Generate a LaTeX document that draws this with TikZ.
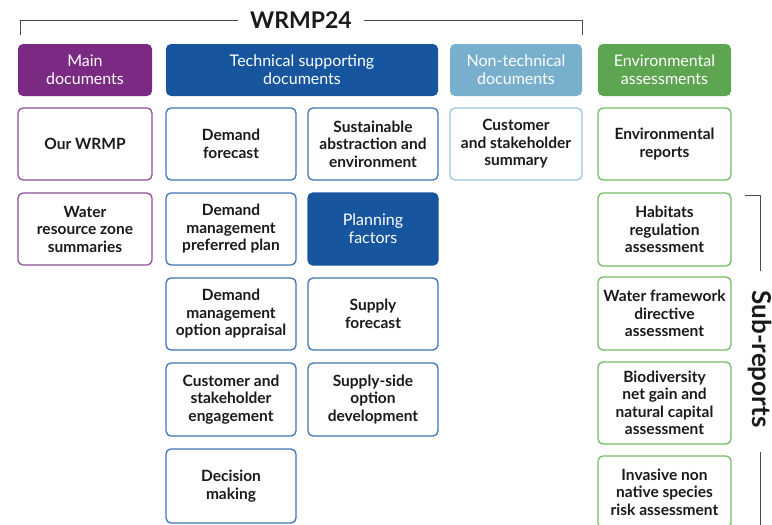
\documentclass[tikz,border=0pt]{standalone}
\usepackage{fontspec}
\setmainfont{Lato}

\definecolor{mainpurple}{HTML}{7B2A83}
\definecolor{mainline}{HTML}{8F4F99}
\definecolor{techblue}{HTML}{17569F}
\definecolor{techline}{HTML}{3F74B9}
\definecolor{nontechblue}{HTML}{78AFCD}
\definecolor{nontechline}{HTML}{9DC7DE}
\definecolor{envgreen}{HTML}{5DA550}
\definecolor{envline}{HTML}{74BB63}
\definecolor{textgrey}{HTML}{1A1A1A}

\tikzset{
  head/.style={rounded corners=5pt, minimum height=52pt, text=white, align=center,
    inner sep=0pt, font=\fontsize{16}{18}\selectfont},
  doc/.style={draw, line width=1.3pt, rounded corners=5pt, fill=white,
    minimum height=72pt, inner sep=0pt, align=center, text=textgrey,
    font=\bfseries\fontsize{15.5}{17.5}\selectfont},
  bracket/.style={draw=black!70, line width=0.9pt}
}

\begin{document}
\begin{tikzpicture}[x=1pt,y=-1pt]
  \clip (0,0) rectangle (772,525);

  % title bracket
  \node[font=\bfseries\fontsize{23}{26}\selectfont, text=textgrey] (title) at (301,20) {WRMP24};
  \coordinate (tl) at (20,35);
  \coordinate (tlc) at (20,20);
  \coordinate (tr) at (582,35);
  \coordinate (trc) at (582,20);
  \draw[bracket] (tl) -- (tlc) -- ([xshift=-9pt]title.west);
  \draw[bracket] ([xshift=9pt]title.east) -- (trc) -- (tr);

  % headings
  \node[head, fill=mainpurple, minimum width=134pt] (mainhead) at (85,70) {Main\\documents};
  \node[head, fill=techblue, minimum width=272pt] (techhead) at (302,70) {Technical supporting\\documents};
  \node[head, fill=nontechblue, minimum width=132pt] (nontechhead) at (516,70) {Non-technical\\documents};
  \node[head, fill=envgreen, minimum width=133pt] (envhead) at (664.5,70) {Environmental\\assessments};

  % main documents
  \node[doc, draw=mainline, minimum width=134pt] (wrmp) at (85,144) {Our WRMP};
  \node[doc, draw=mainline, minimum width=134pt] (wrz) at (85,229) {Water\\resource zone\\summaries};

  % technical supporting documents
  \node[doc, draw=techline, minimum width=130pt] (demfc) at (231,144) {Demand\\forecast};
  \node[doc, draw=techline, minimum width=130pt] (dmpp) at (231,229) {Demand\\management\\preferred plan};
  \node[doc, draw=techline, minimum width=130pt] (dmoa) at (231,314) {Demand\\management\\option appraisal};
  \node[doc, draw=techline, minimum width=130pt, minimum height=73pt] (cse) at (231,399.5) {Customer and\\stakeholder\\engagement};
  \node[doc, draw=techline, minimum width=130pt, minimum height=74pt] (decide) at (231,486) {Decision\\making};

  \node[doc, draw=techline, minimum width=130pt] (sae) at (373,144) {Sustainable\\abstraction and\\environment};
  \node[doc, draw=techblue, fill=techblue, text=white, font=\fontsize{16}{18}\selectfont,
    minimum width=130pt] (planfac) at (373,229) {Planning\\factors};
  \node[doc, draw=techline, minimum width=130pt] (supfc) at (373,314) {Supply\\forecast};
  \node[doc, draw=techline, minimum width=130pt, minimum height=73pt] (ssod) at (373,399.5) {Supply-side\\option\\development};

  % non-technical documents
  \node[doc, draw=nontechline, minimum width=132pt] (css) at (516,144) {Customer\\and stakeholder\\summary};

  % environmental assessments
  \node[doc, draw=envline, minimum width=133pt] (envrep) at (664.5,144) {Environmental\\reports};
  \node[doc, draw=envline, minimum width=133pt, minimum height=73pt] (hra) at (664.5,229.5) {Habitats\\regulation\\assessment};
  \node[doc, draw=envline, minimum width=133pt, minimum height=73pt] (wfd) at (664.5,313.5) {Water framework\\directive\\assessment};
  \node[doc, draw=envline, minimum width=133pt, minimum height=82pt] (bng) at (664.5,403) {Biodiversity\\net gain and\\natural capital\\assessment};
  \node[doc, draw=envline, minimum width=133pt] (inns) at (664.5,492) {Invasive non\\native species\\risk assessment};

  % sub-reports bracket
  \node[rotate=-90, font=\fontsize{26}{28}\selectfont\bfseries, text=textgrey] (subrep) at (760,359) {Sub-reports};
  \coordinate (st) at (745,195);
  \coordinate (stc) at (760,195);
  \coordinate (sm) at (760,271);
  \coordinate (sb) at (760,452);
  \coordinate (sbe) at (760,525);
  \draw[bracket] (st) -- (stc) -- (sm);
  \draw[bracket] (sb) -- (sbe);
\end{tikzpicture}
\end{document}
